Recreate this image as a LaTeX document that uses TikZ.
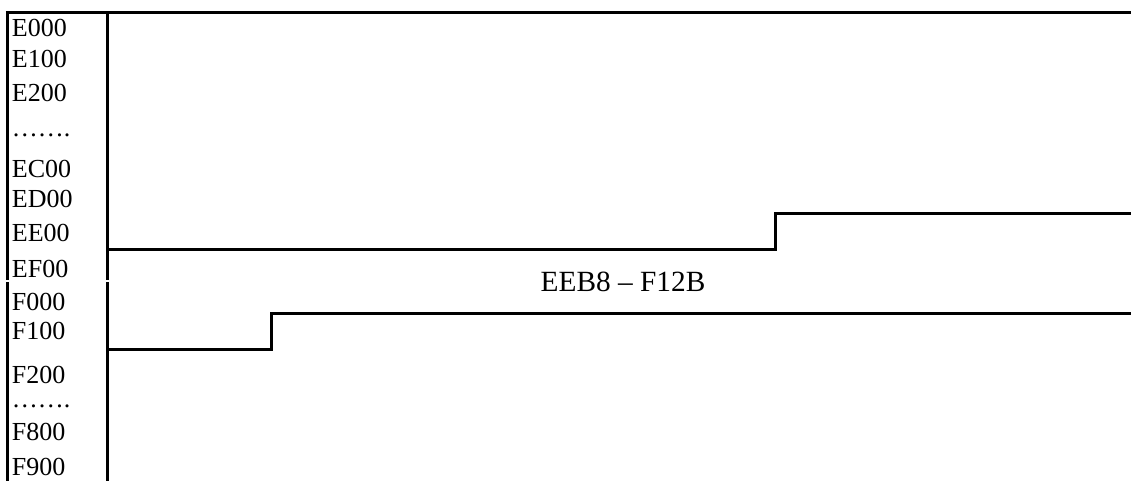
\documentclass[tikz,border=0pt]{standalone}
\usepackage{fontspec}
\setmainfont{Liberation Serif}
\usepackage{tikz}
\usetikzlibrary{positioning}

\tikzset{
    rule/.style={line width=2.25pt},
    addr/.style={anchor=base west, inner sep=0pt, font=\fontsize{19.5}{21}\selectfont},
    blocklabel/.style={anchor=base, inner sep=0pt, font=\fontsize{22}{24}\selectfont}
}

\begin{document}
\begin{tikzpicture}[x=0.75pt, y=-0.75pt]
    \useasboundingbox (0,0) rectangle (1131,481);

    % frame
    \draw[rule] (5.8,12.7) -- (1131,12.7);
    \draw[rule] (7.3,11.5) -- (7.3,279.5);
    \draw[rule] (7.3,282) -- (7.3,481);
    \draw[rule] (107.3,11.5) -- (107.3,279.5);
    \draw[rule] (107.3,282) -- (107.3,481);

    % address column
    \foreach \y/\t [count=\i] in {37/E000, 68/E100, 102/E200, 137/……., 178/EC00, 208/ED00,
        241/EE00, 277/EF00, 310/F000, 339/F100, 383/F200, 407/……., 440/F800, 475/F900}
        \node[addr] (addr\i) at (11.7,\y) {\t};

    % block boundaries
    \coordinate (topstart) at (107.3,249);
    \coordinate (topstep) at (775,249);
    \coordinate (botstart) at (107.3,349);
    \coordinate (botstep) at (271.5,349);
    \draw[rule] (topstart) -- (topstep) -- ++(0,-36) -- (1131,213);
    \draw[rule] (botstart) -- (botstep) -- ++(0,-36) -- (1131,313);

    \node[blocklabel] (block) at (623,291) {EEB8 – F12B};
\end{tikzpicture}
\end{document}
